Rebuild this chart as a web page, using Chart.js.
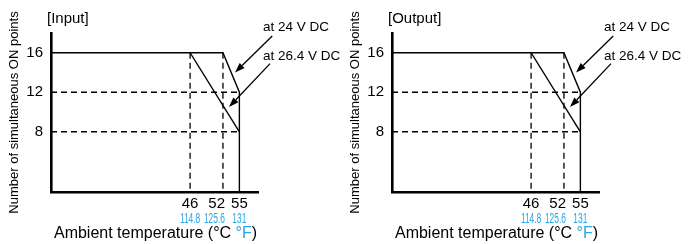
<!DOCTYPE html>
<html>
<head>
<meta charset="utf-8">
<script src="https://cdn.jsdelivr.net/npm/chart.js@4.4.1/dist/chart.umd.min.js"></script>
<style>
  body { margin: 0; background: #fff; }
  .panel { position: absolute; top: 0; width: 346px; height: 244px; }
</style>
</head>
<body>
<div class="panel" style="left:0"><canvas id="inputChart"></canvas></div>
<div class="panel" style="left:341px"><canvas id="outputChart"></canvas></div>
<script>
// axis ranges (the y axis starts at the x minimum, the x axis at the y minimum)
const xMin = 20.6, xMax = 58.4;
const yMin = 1.9, yMax = 18;

// tick labels
const tempC = [46, 52, 55];
const tempCLabels = ["46", "52", "55"];
const tempFLabels = ["114.8", "125.6", "131"];
const pointTicks = [8, 12, 16];

// derating curves
const at24X = [xMin, 52, 55, 55];
const at24Y = [16, 16, 12, yMin];
const at264X = [46, 55];
const at264Y = [16, 8];

// dashed guides
const guide46X = [46, 46], guide46Y = [16, yMin];
const guide52X = [52, 52], guide52Y = [16, yMin];
const guide12X = [xMin, 55], guide12Y = [12, 12];
const guide8X = [xMin, 55], guide8Y = [8, 8];

// callouts: text anchor and arrow from -> tip, in data units
const callouts = [
  { text: "at 24 V DC", tx: 59.3, ty: 18.55, from: [61.0, 17.7], tip: [54.2, 14.0] },
  { text: "at 26.4 V DC", tx: 59.3, ty: 15.6, from: [60.6, 14.9], tip: [53.1, 10.5] }
];

const FONT = "'Liberation Sans', Arial, Helvetica, sans-serif";
const BLUE = "#29a6e3";
Chart.defaults.font.family = FONT;
Chart.defaults.color = "#000";

function pts(xs, ys) {
  return xs.map((x, i) => ({ x: x, y: ys[i] }));
}

function lineSet(xs, ys, dashed) {
  return {
    data: pts(xs, ys),
    borderColor: "#000",
    borderWidth: dashed ? 1.3 : 1.4,
    borderDash: dashed ? [6, 4] : [],
    pointRadius: 0,
    fill: false,
    tension: 0
  };
}

function makeDecor(panelTitle) {
  return {
    id: "decor",
    afterDraw(chart) {
      const { ctx, chartArea, scales } = chart;
      const px = v => scales.x.getPixelForValue(v);
      const py = v => scales.y.getPixelForValue(v);
      ctx.save();
      ctx.fillStyle = "#000";
      ctx.strokeStyle = "#000";
      ctx.textBaseline = "middle";
      ctx.textAlign = "left";

      ctx.font = "15px " + FONT;
      ctx.fillText(panelTitle, chartArea.left - 4, 19);

      // callouts with arrows
      ctx.font = "13.5px " + FONT;
      callouts.forEach(c => {
        ctx.fillText(c.text, px(c.tx), py(c.ty));
        const x0 = px(c.from[0]), y0 = py(c.from[1]);
        const x1 = px(c.tip[0]), y1 = py(c.tip[1]);
        const ang = Math.atan2(y1 - y0, x1 - x0);
        const headLen = 10, headW = 3.5;
        ctx.lineWidth = 1.3;
        ctx.beginPath();
        ctx.moveTo(x0, y0);
        ctx.lineTo(x1 - Math.cos(ang) * headLen, y1 - Math.sin(ang) * headLen);
        ctx.stroke();
        ctx.beginPath();
        ctx.moveTo(x1, y1);
        ctx.lineTo(x1 - Math.cos(ang) * headLen - Math.sin(ang) * headW,
                   y1 - Math.sin(ang) * headLen + Math.cos(ang) * headW);
        ctx.lineTo(x1 - Math.cos(ang) * headLen + Math.sin(ang) * headW,
                   y1 - Math.sin(ang) * headLen - Math.cos(ang) * headW);
        ctx.closePath();
        ctx.fill();
      });

      // Fahrenheit tick labels on the x2 scale, in a condensed face
      const x2 = scales.x2;
      ctx.fillStyle = BLUE;
      ctx.font = "15px " + FONT;
      const squeeze = 0.56;
      x2.ticks.forEach((t, i) => {
        const label = tempFLabels[i];
        const w = ctx.measureText(label).width * squeeze;
        const cx = x2.getPixelForValue(t.value);
        // middle label ends at its line, the others are centred
        const left = i === 1 ? cx + 2 - w : cx - w / 2;
        ctx.save();
        ctx.translate(left, x2.top + 6.5);
        ctx.scale(squeeze, 1);
        ctx.fillText(label, 0, 0);
        ctx.restore();
      });

      // x axis title, °F in blue
      ctx.fillStyle = "#000";
      ctx.font = "16px " + FONT;
      const partA = "Ambient temperature (°C ";
      const partB = "°F";
      const partC = ")";
      const wA = ctx.measureText(partA).width;
      const wB = ctx.measureText(partB).width;
      const wC = ctx.measureText(partC).width;
      let x = (chartArea.left + chartArea.right) / 2 + 1 - (wA + wB + wC) / 2;
      const y = 234;
      ctx.fillText(partA, x, y);
      ctx.fillStyle = BLUE;
      ctx.fillText(partB, x + wA, y);
      ctx.fillStyle = "#000";
      ctx.fillText(partC, x + wA + wB, y);
      ctx.restore();
    }
  };
}

function makeChart(id, panelTitle) {
  new Chart(id, {
    type: "line",
    data: {
      datasets: [
        lineSet(guide46X, guide46Y, true),
        lineSet(guide52X, guide52Y, true),
        lineSet(guide12X, guide12Y, true),
        lineSet(guide8X, guide8Y, true),
        lineSet(at24X, at24Y, false),
        lineSet(at264X, at264Y, false)
      ]
    },
    options: {
      responsive: true,
      maintainAspectRatio: false,
      animation: false,
      layout: { padding: { top: 33, right: 88, left: 0, bottom: 0 } },
      plugins: { legend: { display: false }, tooltip: { enabled: false } },
      scales: {
        x: {
          type: "linear",
          position: "bottom",
          min: xMin,
          max: xMax,
          grid: { display: false, drawTicks: false },
          border: { display: true, color: "#000", width: 2.6 },
          afterBuildTicks: s => { s.ticks = tempC.map(v => ({ value: v })); },
          afterFit: s => { s.height = 20; },
          ticks: {
            autoSkip: false,
            maxRotation: 0,
            padding: 3,
            font: { size: 15 },
            color: "#000",
            // the middle label sits a little left of its line, as in the print
            callback: (v, i) => i === 1 ? tempCLabels[i] + "   " : tempCLabels[i]
          }
        },
        x2: {
          type: "linear",
          position: "bottom",
          min: xMin,
          max: xMax,
          grid: { display: false, drawTicks: false },
          border: { display: false },
          afterBuildTicks: s => { s.ticks = tempC.map(v => ({ value: v })); },
          afterFit: s => { s.height = 32; },
          ticks: { display: false }
        },
        y: {
          type: "linear",
          min: yMin,
          max: yMax,
          grid: { display: false, drawTicks: false },
          border: { display: true, color: "#000", width: 2.6 },
          afterBuildTicks: s => { s.ticks = pointTicks.map(v => ({ value: v })); },
          afterFit: s => { s.width = 51; },
          ticks: { padding: 8, font: { size: 15 }, color: "#000" },
          title: {
            display: true,
            text: "Number of simultaneous ON points",
            font: { size: 13 },
            color: "#000",
            padding: { top: 7, bottom: 0 }
          }
        }
      }
    },
    plugins: [makeDecor(panelTitle)]
  });
}

makeChart("inputChart", "[Input]");
makeChart("outputChart", "[Output]");
</script>
</body>
</html>
